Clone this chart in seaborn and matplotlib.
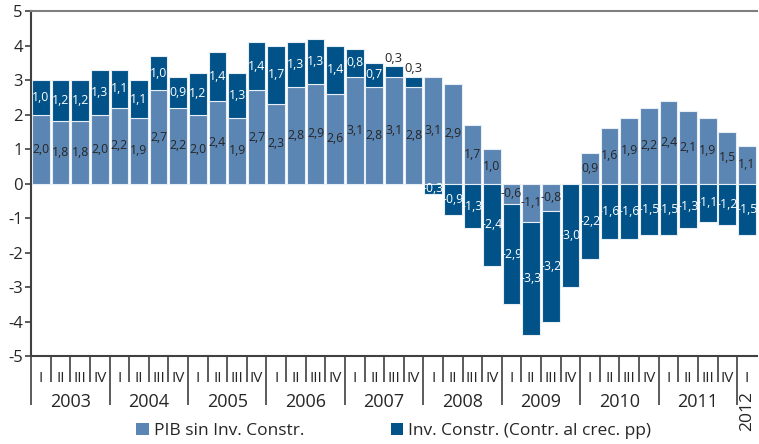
import numpy as np
import pandas as pd
import matplotlib
matplotlib.use("Agg")
import matplotlib.pyplot as plt
import matplotlib.transforms as mtransforms
from matplotlib.patches import Patch
import seaborn as sns

# ---------------- data ----------------
years = ["2003", "2004", "2005", "2006", "2007", "2008", "2009", "2010", "2011", "2012"]
quarter_names = ["I", "II", "III", "IV"]
pib_sin_inv = [2.0, 1.8, 1.8, 2.0,
               2.2, 1.9, 2.7, 2.2,
               2.0, 2.4, 1.9, 2.7,
               2.3, 2.8, 2.9, 2.6,
               3.1, 2.8, 3.1, 2.8,
               3.1, 2.9, 1.7, 1.0,
               -0.6, -1.1, -0.8, 0.0,
               0.9, 1.6, 1.9, 2.2,
               2.4, 2.1, 1.9, 1.5,
               1.1]
inv_constr = [1.0, 1.2, 1.2, 1.3,
              1.1, 1.1, 1.0, 0.9,
              1.2, 1.4, 1.3, 1.4,
              1.7, 1.3, 1.3, 1.4,
              0.8, 0.7, 0.3, 0.3,
              -0.3, -0.9, -1.3, -2.4,
              -2.9, -3.3, -3.2, -3.0,
              -2.2, -1.6, -1.6, -1.5,
              -1.5, -1.3, -1.1, -1.2,
              -1.5]
y_ticks = [-5, -4, -3, -2, -1, 0, 1, 2, 3, 4, 5]
legend_labels = ["PIB sin Inv. Constr.", "Inv. Constr. (Contr. al crec. pp)"]

# ---------------- style ----------------
LIGHT = "#5b85b2"
DARK = "#005288"
TXT = "#262626"
LBL_SIZE = 8.8

sns.set_theme(style="white")
plt.rcParams["font.family"] = ["Open Sans", "DejaVu Sans"]

n = len(pib_sin_inv)
periods = []
quarters = []
for y in years:
    for q in quarter_names:
        if len(periods) < n:
            periods.append(f"{y}-{q}")
            quarters.append(q)

df = pd.DataFrame({"periodo": periods, "pib": pib_sin_inv, "inv": inv_constr})
pib_arr = np.array(pib_sin_inv)
inv_arr = np.array(inv_constr)
bottom_inv = np.where(np.sign(pib_arr) == np.sign(inv_arr), pib_arr, 0.0)

fig = plt.figure(figsize=(7.59, 4.44), dpi=100)
ax = fig.add_axes([0.041, 0.198, 0.956, 0.777])

sns.barplot(data=df, x="periodo", y="pib", color=LIGHT, saturation=1, width=0.9,
            edgecolor="#e8eef5", linewidth=0.8, errorbar=None, ax=ax)
sns.barplot(data=df, x="periodo", y="inv", color=DARK, saturation=1, width=0.9,
            bottom=bottom_inv, edgecolor="#e8eef5", linewidth=0.8, errorbar=None, ax=ax)


def fmt(v):
    return f"{v:.1f}".replace(".", ",")


# value labels
for patch, v in zip(ax.containers[0], pib_sin_inv):
    if v == 0:
        continue
    cx = patch.get_x() + patch.get_width() / 2
    cy = patch.get_y() + patch.get_height() / 2
    ax.text(cx, cy, fmt(v), ha="center", va="center", fontsize=LBL_SIZE, color=TXT)

for patch, v in zip(ax.containers[1], inv_constr):
    cx = patch.get_x() + patch.get_width() / 2
    y0 = patch.get_y()
    h = patch.get_height()
    if abs(v) < 0.5 and v > 0:
        ax.text(cx, y0 + h + 0.05, fmt(v), ha="center", va="bottom",
                fontsize=LBL_SIZE + 0.5, color=TXT)
    else:
        ax.text(cx, y0 + h / 2, fmt(v), ha="center", va="center",
                fontsize=LBL_SIZE, color="white")

# axes limits & y ticks
ax.set_ylim(-5, 5)
ax.set_xlim(-0.5, n - 0.5)
ax.set_yticks(y_ticks, labels=[str(t) for t in y_ticks])
ax.tick_params(axis="y", which="major", length=4, width=1.2, color="#404040",
               labelsize=12, labelcolor=TXT, left=True, pad=2)
ax.set_xlabel("")
ax.set_ylabel("")

# x ticks: long at year boundaries, short at quarter boundaries
year_bounds = [i - 0.5 for i in range(0, n, 4)]
quarter_bounds = [i - 0.5 for i in range(1, n) if i % 4 != 0]
ax.set_xticks(year_bounds, labels=[""] * len(year_bounds))
ax.set_xticks(quarter_bounds, minor=True)
ax.tick_params(axis="x", which="major", length=35, width=1.2, color="#404040",
               direction="out", bottom=True)
ax.tick_params(axis="x", which="minor", length=18.5, width=1.2, color="#404040",
               direction="out", bottom=True)

trans = mtransforms.blended_transform_factory(ax.transData, ax.transAxes)
for i, q in enumerate(quarters):
    ax.text(i, -0.066, q, transform=trans, ha="center", va="center",
            fontsize=11, color=TXT, clip_on=False)
for k, y in enumerate(years):
    first = 4 * k
    last = min(4 * k + 3, n - 1)
    if first >= n:
        break
    if last - first >= 3:
        ax.text((first + last) / 2, -0.134, y, transform=trans, ha="center",
                va="center", fontsize=13, color=TXT, clip_on=False)
    else:
        ax.text((first + last) / 2, -0.16, y, transform=trans, ha="center",
                va="center", fontsize=12.5, color=TXT, rotation=90, clip_on=False)

# spines
for side in ["left", "bottom"]:
    ax.spines[side].set_color("#404040")
    ax.spines[side].set_linewidth(1.5)
ax.spines["top"].set_color("#7f7f7f")
ax.spines["top"].set_linewidth(1.5)
ax.spines["right"].set_visible(False)

# legend
handles = [Patch(facecolor=LIGHT, edgecolor="none"), Patch(facecolor=DARK, edgecolor="none")]
fig.legend(handles, legend_labels, loc="center", bbox_to_anchor=(0.519, 0.03), ncol=2,
           frameon=False, handlelength=0.7, handleheight=0.7, handletextpad=0.3,
           columnspacing=5.0, fontsize=12.5, labelcolor=TXT)

fig.savefig("out.png", dpi=100)
